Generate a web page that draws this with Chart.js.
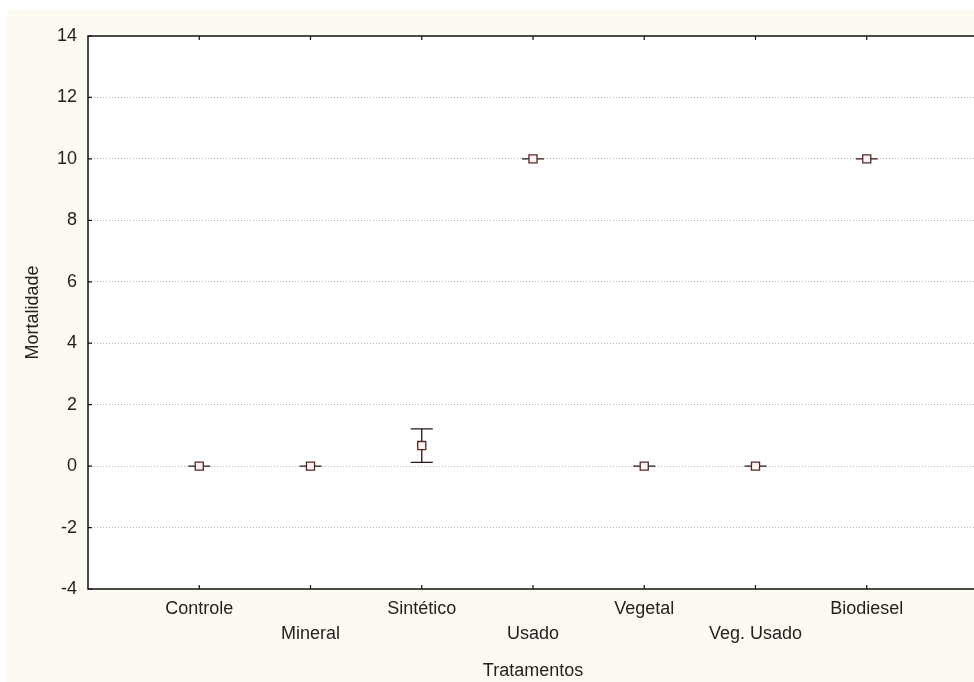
<!DOCTYPE html>
<html>
<head>
<meta charset="utf-8">
<script src="https://cdn.jsdelivr.net/npm/chart.js@4/dist/chart.umd.min.js"></script>
<style>
  html, body { margin: 0; padding: 0; background: #ffffff; overflow: hidden; }
  #bg { position: absolute; left: 7px; top: 10px; right: 0; bottom: 0; background: #fdfbf1; }
  #wrap { position: absolute; left: 0; top: 0; width: 985px; height: 682px; }
</style>
</head>
<body>
<div id="bg"></div>
<div id="wrap"><canvas id="chart"></canvas></div>
<script>
// Data
const categories = ['Controle', 'Mineral', 'Sintético', 'Usado', 'Vegetal', 'Veg. Usado', 'Biodiesel'];
const means = [0, 0, 0.67, 10, 0, 0, 10];
const lowerBars = [0, 0, 0.12, 10, 0, 0, 10];
const upperBars = [0, 0, 1.21, 10, 0, 0, 10];
const yTicks = [-4, -2, 0, 2, 4, 6, 8, 10, 12, 14];

const points = categories.map((c, i) => ({ x: i + 1, y: means[i] }));
const fontFamily = 'Liberation Sans, Arial, sans-serif';

// white plot area, frame, inward ticks and whiskers
const framePlugin = {
  id: 'frame',
  beforeDraw(chart) {
    const { ctx, chartArea: a } = chart;
    ctx.save();
    ctx.fillStyle = '#ffffff';
    ctx.fillRect(a.left, a.top, a.right - a.left, a.bottom - a.top);
    ctx.restore();
  },
  beforeDatasetsDraw(chart) {
    const { ctx } = chart;
    const xs = chart.scales.x, ys = chart.scales.y;
    ctx.save();
    ctx.strokeStyle = '#2a1616';
    ctx.lineWidth = 1.3;
    categories.forEach((c, i) => {
      const x = xs.getPixelForValue(i + 1);
      const yl = ys.getPixelForValue(lowerBars[i]);
      const yu = ys.getPixelForValue(upperBars[i]);
      ctx.beginPath();
      ctx.moveTo(x, yl); ctx.lineTo(x, yu);
      ctx.moveTo(x - 11, yl); ctx.lineTo(x + 11, yl);
      ctx.moveTo(x - 11, yu); ctx.lineTo(x + 11, yu);
      ctx.stroke();
    });
    ctx.restore();
  },
  afterDraw(chart) {
    const { ctx, chartArea: a } = chart;
    const xs = chart.scales.x, ys = chart.scales.y;
    ctx.save();
    ctx.strokeStyle = '#111';
    ctx.lineWidth = 1.5;
    ctx.strokeRect(a.left, a.top, a.right - a.left, a.bottom - a.top);
    ctx.lineWidth = 1.2;
    ctx.beginPath();
    yTicks.forEach(v => {
      const y = ys.getPixelForValue(v);
      ctx.moveTo(a.left, y); ctx.lineTo(a.left + 4, y);
    });
    categories.forEach((c, i) => {
      const x = xs.getPixelForValue(i + 1);
      ctx.moveTo(x, a.bottom); ctx.lineTo(x, a.bottom - 4);
      ctx.moveTo(x, a.top); ctx.lineTo(x, a.top + 4);
    });
    ctx.stroke();
    ctx.restore();
  }
};

new Chart(document.getElementById('chart'), {
  type: 'scatter',
  data: {
    datasets: [{
      label: 'Mortalidade',
      data: points,
      pointStyle: 'rect',
      pointRadius: 5.7,
      pointHoverRadius: 5.7,
      borderColor: '#5a2626',
      backgroundColor: '#fff5f5',
      borderWidth: 1.3
    }]
  },
  options: {
    responsive: true,
    maintainAspectRatio: false,
    animation: false,
    layout: { padding: { top: 36, right: 6, left: 0, bottom: 0 } },
    plugins: { legend: { display: false }, tooltip: { enabled: false } },
    scales: {
      x: {
        type: 'linear',
        min: 0,
        max: 8,
        afterFit(scale) { scale.height = 93; },
        afterBuildTicks(scale) {
          scale.ticks = categories.map((c, i) => ({ value: i + 1 }));
        },
        grid: { display: false, drawTicks: false },
        border: { display: false },
        ticks: {
          padding: 8,
          color: '#222',
          font: { family: fontFamily, size: 18, lineHeight: 1.39 },
          maxRotation: 0,
          autoSkip: false,
          callback(value) {
            const name = categories[value - 1];
            if (!name) return '';
            return (value % 2 === 0) ? ['', name] : name;
          }
        },
        title: {
          display: true,
          text: 'Tratamentos',
          color: '#222',
          padding: { top: 0, bottom: 0 },
          font: { family: fontFamily, size: 18 }
        }
      },
      y: {
        min: -4,
        max: 14,
        afterFit(scale) { scale.width = 88; },
        afterBuildTicks(scale) {
          scale.ticks = yTicks.map(v => ({ value: v }));
        },
        grid: {
          drawTicks: false,
          color: (ctx) => (ctx.tick && (ctx.tick.value === 14 || ctx.tick.value === -4)) ? 'rgba(0,0,0,0)' : '#b4b4b4',
          lineWidth: 1
        },
        border: { display: false, dash: [1, 2] },
        ticks: {
          padding: 11,
          color: '#222',
          font: { family: fontFamily, size: 18 }
        },
        title: {
          display: true,
          text: 'Mortalidade',
          color: '#222',
          padding: { top: 22, bottom: 0 },
          font: { family: fontFamily, size: 18 }
        }
      }
    }
  },
  plugins: [framePlugin]
});
</script>
</body>
</html>
